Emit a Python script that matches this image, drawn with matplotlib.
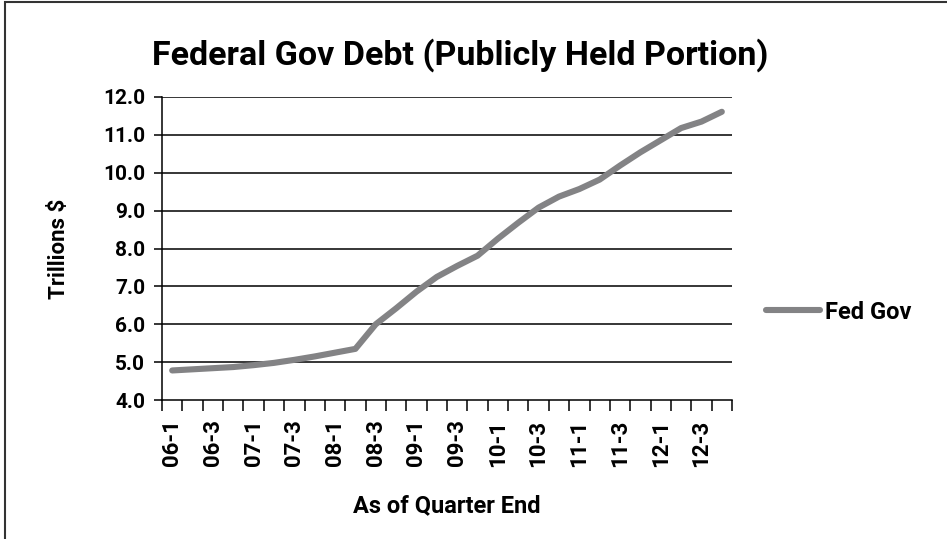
import matplotlib.pyplot as plt
import numpy as np
from matplotlib.patches import Rectangle

# Quarter labels, 06-1 .. 12-4
quarters = [f"{y:02d}-{q}" for y in range(6, 13) for q in range(1, 5)]
# Publicly held federal debt, trillions $
fed_gov = [4.78, 4.81, 4.84, 4.87, 4.92, 4.98, 5.06, 5.15,
           5.25, 5.35, 6.00, 6.42, 6.86, 7.25, 7.54, 7.81,
           8.26, 8.68, 9.08, 9.37, 9.57, 9.82, 10.19, 10.54,
           10.86, 11.18, 11.35, 11.61]
y_ticks = [4.0, 5.0, 6.0, 7.0, 8.0, 9.0, 10.0, 11.0, 12.0]

plt.rcParams['font.family'] = ['Roboto', 'DejaVu Sans']
plt.rcParams['font.weight'] = 'bold'

fig = plt.figure(figsize=(9.47, 5.39), dpi=100)
ax = fig.add_axes([162 / 947, 1 - 400 / 539, 570 / 947, 303 / 539])

x = np.arange(len(quarters))
ax.plot(x, fed_gov, color="#838385", lw=4.4, solid_capstyle="round",
        solid_joinstyle="round", label="Fed Gov", zorder=3)

ax.set_ylim(4, 12)
ax.set_xlim(-0.5, len(quarters) - 0.5)
ax.set_yticks(y_ticks)
ax.set_yticklabels([f"{v:.1f}" for v in y_ticks], fontsize=15, fontweight="bold")
for v in y_ticks[1:]:
    ax.axhline(v, color="black", lw=1.1, zorder=1)

ax.set_xticks(x[::2])
ax.set_xticklabels(quarters[::2], rotation=90, fontsize=16, fontweight="bold")
ax.set_xticks(np.arange(-0.5, len(quarters)), minor=True)
ax.tick_params(axis="x", which="major", length=0, pad=14)
ax.tick_params(axis="x", which="minor", length=8, width=1.1, direction="out")
ax.tick_params(axis="y", length=6, width=1.1, direction="out", pad=6)

for s in ["top", "right"]:
    ax.spines[s].set_visible(False)
ax.spines["left"].set_linewidth(1.1)
ax.spines["bottom"].set_linewidth(1.1)

ax.set_ylabel("Trillions $", fontsize=16, fontweight="bold", labelpad=24)
ax.set_xlabel("As of Quarter End", fontsize=17, fontweight="bold", labelpad=20)
fig.text(460 / 947, 1 - 55 / 539, "Federal Gov Debt (Publicly Held Portion)",
         ha="center", va="center", fontsize=24.5, fontweight="bold")

ax.legend(loc="center left", bbox_to_anchor=(1.022, 0.29), frameon=False,
          handlelength=2.3, handletextpad=0.2,
          prop={"weight": "bold", "size": 17})

# outer frame (only top and left edges visible in the crop)
fig.patches.append(Rectangle((5 / 947, -0.1), 1.2, 1.1 - 2 / 539,
                             transform=fig.transFigure, fill=False,
                             edgecolor="#333333", lw=1.5))

fig.savefig("out.png", dpi=100)
